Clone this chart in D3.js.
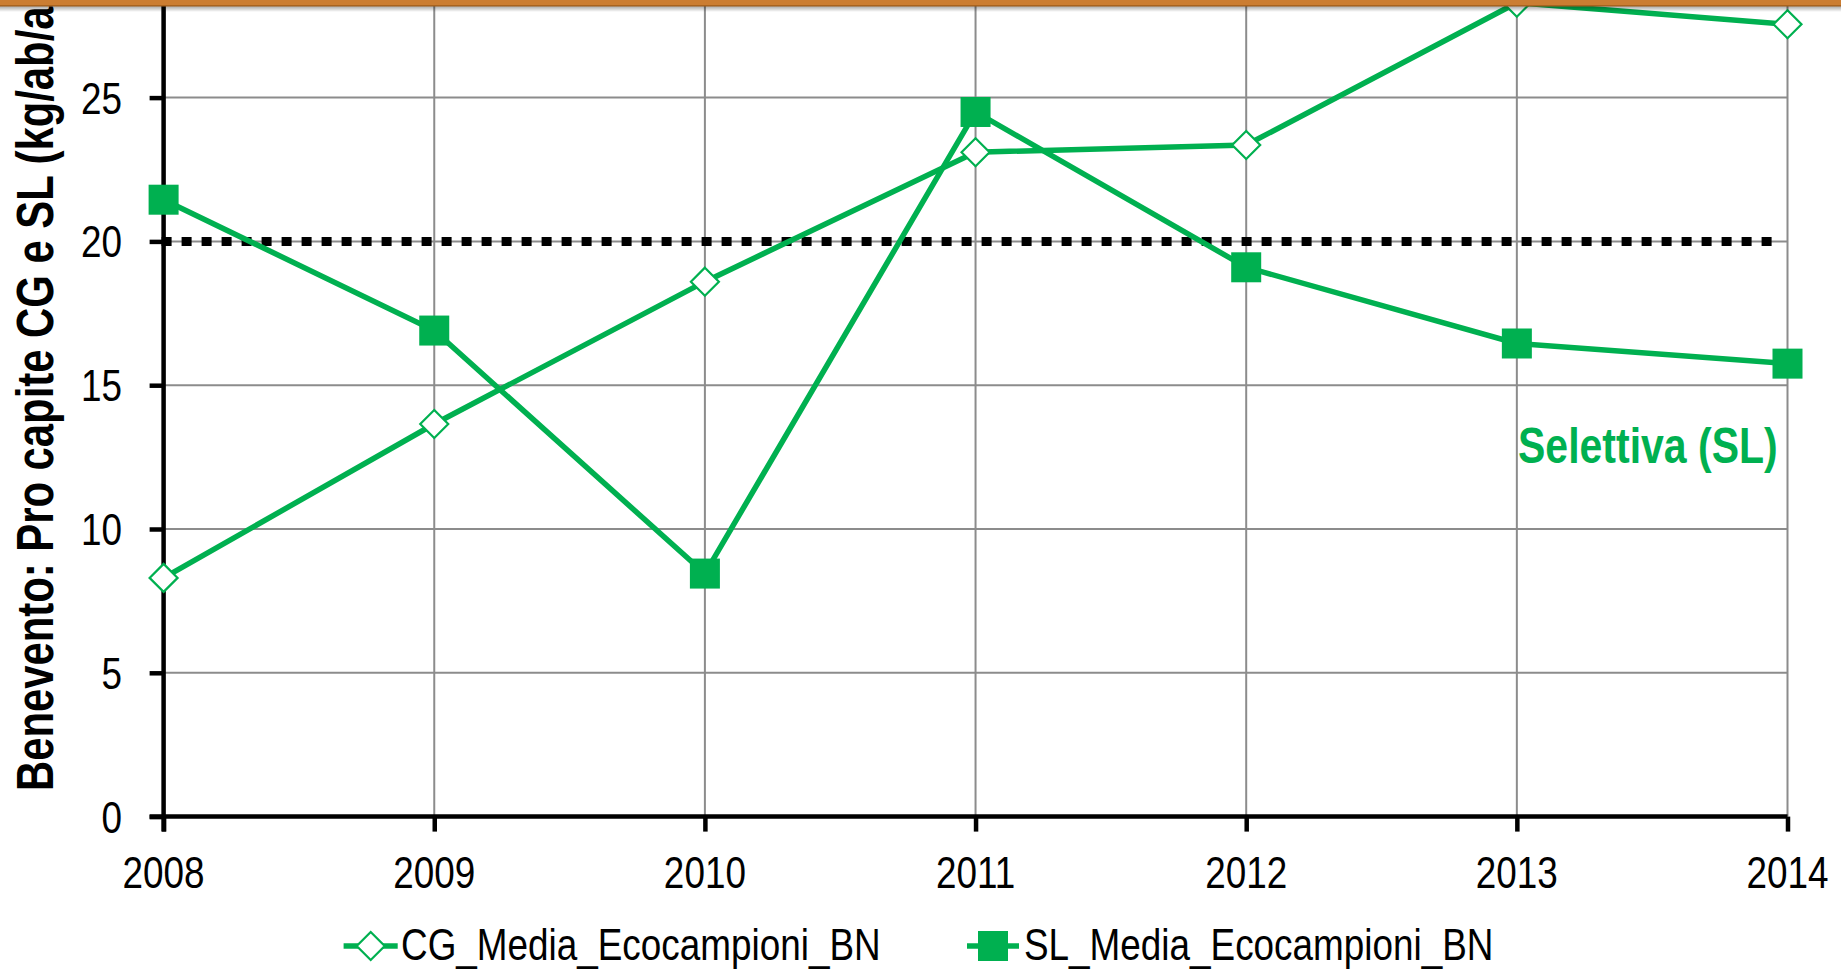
<!DOCTYPE html>
<html>
<head>
<meta charset="utf-8">
<script src="https://cdn.jsdelivr.net/npm/d3@7"></script>
<style>
  html, body { margin: 0; padding: 0; background: #fff; overflow: hidden; }
  text { font-family: "Liberation Sans", Arial, sans-serif; }
</style>
</head>
<body>
<script>
// dati
const anni = [2008, 2009, 2010, 2011, 2012, 2013, 2014];
const cgMedia = [8.3, 13.65, 18.6, 23.1, 23.35, 28.3, 27.55];
const slMedia = [21.45, 16.9, 8.45, 24.5, 19.1, 16.45, 15.75];
const soglia = 20;
const yTicks = [0, 5, 10, 15, 20, 25];
const nomiSerie = ["CG_Media_Ecocampioni_BN", "SL_Media_Ecocampioni_BN"];

const W = 1845, H = 971;
const verde = "#00B050";
const stretto = 0.82; // simula Arial Narrow

const svg = d3.select("body").append("svg")
    .attr("width", W)
    .attr("height", H);

// scale
const x = d3.scaleLinear().domain([2008, 2014]).range([163.6, 1787.5]);
const y = d3.scaleLinear().domain([0, 30]).range([816.6, 816.6 - 30 * 28.76]);

// testo "stretto" posizionato con transform
function testo(g, tx, ty, anchor, size, bold, col, str, rot) {
    return g.append("text")
        .attr("transform", "translate(" + tx + "," + ty + ")" + (rot ? " rotate(" + rot + ")" : "") + " scale(" + stretto + ",1)")
        .attr("text-anchor", anchor)
        .style("font-size", size + "px")
        .style("font-weight", bold ? "bold" : "normal")
        .attr("fill", col)
        .text(str);
}

// griglia orizzontale
svg.append("g")
    .selectAll("line")
    .data(yTicks.filter(d => d > 0))
    .enter()
    .append("line")
    .attr("x1", x(2008)).attr("x2", x(2014))
    .attr("y1", d => y(d)).attr("y2", d => y(d))
    .attr("stroke", "#8c8c8c")
    .attr("stroke-width", 2);

// griglia verticale
svg.append("g")
    .selectAll("line")
    .data(anni.slice(1))
    .enter()
    .append("line")
    .attr("x1", d => x(d)).attr("x2", d => x(d))
    .attr("y1", y(0)).attr("y2", 0)
    .attr("stroke", "#8c8c8c")
    .attr("stroke-width", 2);

// linea soglia 20 (puntinata)
svg.append("line")
    .attr("x1", x(2008) - 2).attr("x2", x(2014) - 10)
    .attr("y1", y(soglia)).attr("y2", y(soglia))
    .attr("stroke", "#000")
    .attr("stroke-width", 9)
    .attr("stroke-dasharray", "10,10");

// assi
const axisY = svg.append("g")
    .attr("transform", "translate(" + x(2008) + ",0)")
    .call(d3.axisLeft(y).tickValues(yTicks).tickSize(14));
axisY.select(".domain").remove();
axisY.selectAll(".tick text").remove();
axisY.append("line")
    .attr("x1", 0).attr("x2", 0)
    .attr("y1", y(0) + 15).attr("y2", 0)
    .attr("stroke", "#000").attr("stroke-width", 4.5);
axisY.selectAll(".tick line").attr("stroke", "#000").attr("stroke-width", 4.5);

const yLab = svg.append("g");
yTicks.forEach(v => testo(yLab, 122, y(v) + 16, "end", 45, false, "#000", v));

const axisX = svg.append("g")
    .attr("transform", "translate(0," + y(0) + ")")
    .call(d3.axisBottom(x).tickValues(anni).tickSize(15));
axisX.select(".domain").remove();
axisX.selectAll(".tick text").remove();
axisX.append("line")
    .attr("x1", x(2008) - 14).attr("x2", x(2014))
    .attr("y1", 0).attr("y2", 0)
    .attr("stroke", "#000").attr("stroke-width", 4.5);
axisX.selectAll(".tick line").attr("stroke", "#000").attr("stroke-width", 4.5);

const xLab = svg.append("g");
anni.forEach(a => testo(xLab, x(a), 888, "middle", 45, false, "#000", a));

// linee delle serie
const linea = d3.line()
    .x((d, i) => x(anni[i]))
    .y(d => y(d));

svg.append("path")
    .datum(cgMedia)
    .attr("d", linea)
    .attr("fill", "none")
    .attr("stroke", verde)
    .attr("stroke-width", 5.5);

svg.append("path")
    .datum(slMedia)
    .attr("d", linea)
    .attr("fill", "none")
    .attr("stroke", verde)
    .attr("stroke-width", 5.5);

// marcatori
const rombo = "M0,-14L14,0L0,14L-14,0Z";

svg.selectAll(".cg")
    .data(cgMedia)
    .enter()
    .append("path")
    .attr("class", "cg")
    .attr("d", rombo)
    .attr("transform", (d, i) => "translate(" + x(anni[i]) + "," + y(d) + ")")
    .attr("fill", "#fff")
    .attr("stroke", verde)
    .attr("stroke-width", 2.2);

svg.selectAll(".sl")
    .data(slMedia)
    .enter()
    .append("rect")
    .attr("class", "sl")
    .attr("x", (d, i) => x(anni[i]) - 15)
    .attr("y", d => y(d) - 15)
    .attr("width", 30)
    .attr("height", 30)
    .attr("fill", verde);

// etichetta asse y
testo(svg, 53, 791, "start", 51, true, "#000", "Benevento: Pro capite CG e SL (kg/ab/anno)", -90);

// annotazione
testo(svg, 1518, 463, "start", 50, true, verde, "Selettiva (SL)");

// legenda
const leg = svg.append("g");
const legY = 946;
leg.append("line")
    .attr("x1", 343.6).attr("x2", 397.7)
    .attr("y1", legY).attr("y2", legY)
    .attr("stroke", verde).attr("stroke-width", 5.5);
leg.append("path")
    .attr("d", rombo)
    .attr("transform", "translate(370.7," + legY + ")")
    .attr("fill", "#fff")
    .attr("stroke", verde)
    .attr("stroke-width", 2.2);
testo(leg, 401, legY + 14, "start", 45, false, "#000", nomiSerie[0]);

leg.append("line")
    .attr("x1", 967).attr("x2", 1019)
    .attr("y1", legY).attr("y2", legY)
    .attr("stroke", verde).attr("stroke-width", 5.5);
leg.append("rect")
    .attr("x", 993 - 15).attr("y", legY - 15)
    .attr("width", 30).attr("height", 30)
    .attr("fill", verde);
testo(leg, 1024, legY + 14, "start", 45, false, "#000", nomiSerie[1]);

// barra arancione in alto con ombra
const defs = svg.append("defs");
const grad = defs.append("linearGradient")
    .attr("id", "ombra")
    .attr("x1", 0).attr("y1", 0).attr("x2", 0).attr("y2", 1);
grad.append("stop").attr("offset", "0%").attr("stop-color", "#000").attr("stop-opacity", 0.35);
grad.append("stop").attr("offset", "100%").attr("stop-color", "#000").attr("stop-opacity", 0);

svg.append("rect")
    .attr("x", 0).attr("y", 6)
    .attr("width", W - 4).attr("height", 6)
    .attr("fill", "url(#ombra)");
svg.append("rect")
    .attr("x", 0).attr("y", 0)
    .attr("width", W - 4).attr("height", 6)
    .attr("fill", "#CB7D32");
svg.append("rect")
    .attr("x", 0).attr("y", 5)
    .attr("width", W - 4).attr("height", 1.5)
    .attr("fill", "#A8631F");
</script>
</body>
</html>
